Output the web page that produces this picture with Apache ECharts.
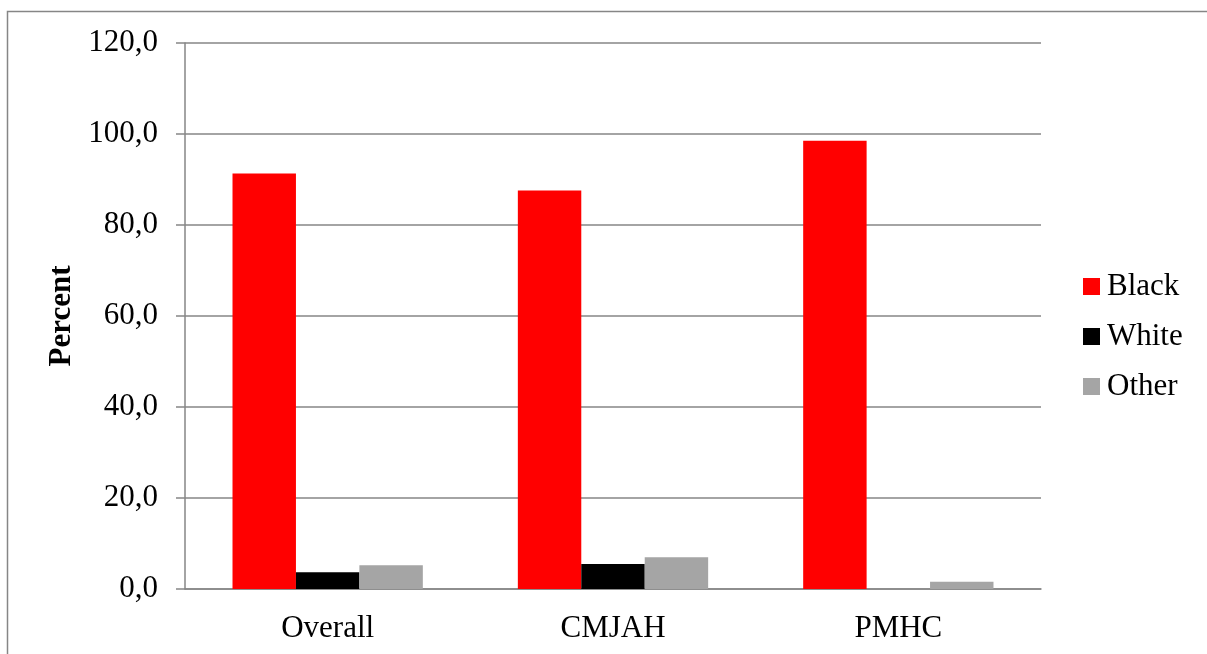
<!DOCTYPE html>
<html>
<head>
<meta charset="utf-8">
<script src="https://cdn.jsdelivr.net/npm/echarts@6/dist/echarts.min.js"></script>
<style>html,body{margin:0;padding:0;background:#fff}#c{width:1207px;height:654px}</style>
</head>
<body>
<div id="c"></div>
<script>
const categories = ['Overall', 'CMJAH', 'PMHC'];
const black = [91.3, 87.6, 98.5];
const white = [3.7, 5.5, 0];
const other = [5.2, 7.0, 1.6];
const yTicks = [0, 20, 40, 60, 80, 100, 120];

const font = '"Liberation Serif", "Times New Roman", serif';
const axisColor = '#868686';
const chart = echarts.init(document.getElementById('c'));
chart.setOption({
  animation: false,
  backgroundColor: '#fff',
  graphic: [{
    type: 'rect', left: 5, top: 9,
    shape: { x: 0, y: 0, width: 1220, height: 680 },
    style: { fill: 'none', stroke: axisColor, lineWidth: 1.5 }
  }],
  grid: { left: 185, right: 166, top: 43, bottom: 65 },
  legend: {
    orient: 'vertical', left: 1078, top: 266,
    itemWidth: 17, itemHeight: 17, itemGap: 19,
    icon: 'rect',
    textStyle: { fontFamily: font, fontSize: 31, color: '#000', padding: [0, 0, 0, 2] },
    data: ['Black', 'White', 'Other']
  },
  xAxis: {
    type: 'category', data: categories,
    axisLine: { lineStyle: { color: axisColor, width: 1.5 } },
    axisTick: { length: 10, lineStyle: { color: axisColor, width: 1.5 } },
    axisLabel: { fontFamily: font, fontSize: 31, color: '#000', margin: 24 }
  },
  yAxis: {
    type: 'value', min: 0, max: 120, interval: 20,
    name: 'Percent', nameLocation: 'middle', nameGap: 107,
    nameTextStyle: { fontFamily: font, fontSize: 31, fontWeight: 'bold', color: '#000' },
    axisLine: { show: true, lineStyle: { color: axisColor, width: 1.5 } },
    axisTick: { show: true, length: 9, lineStyle: { color: axisColor, width: 1.5 } },
    splitLine: { lineStyle: { color: axisColor, width: 1.5 } },
    axisLabel: {
      fontFamily: font, fontSize: 31, color: '#000', margin: 27,
      formatter: v => yTicks.includes(v) ? v.toFixed(1).replace('.', ',') : ''
    }
  },
  series: [
    { name: 'Black', type: 'bar', data: black, itemStyle: { color: '#ff0000' }, barGap: 0, barCategoryGap: '33.3%' },
    { name: 'White', type: 'bar', data: white, itemStyle: { color: '#000000' } },
    { name: 'Other', type: 'bar', data: other, itemStyle: { color: '#a5a5a5' } }
  ]
});
</script>
</body>
</html>
